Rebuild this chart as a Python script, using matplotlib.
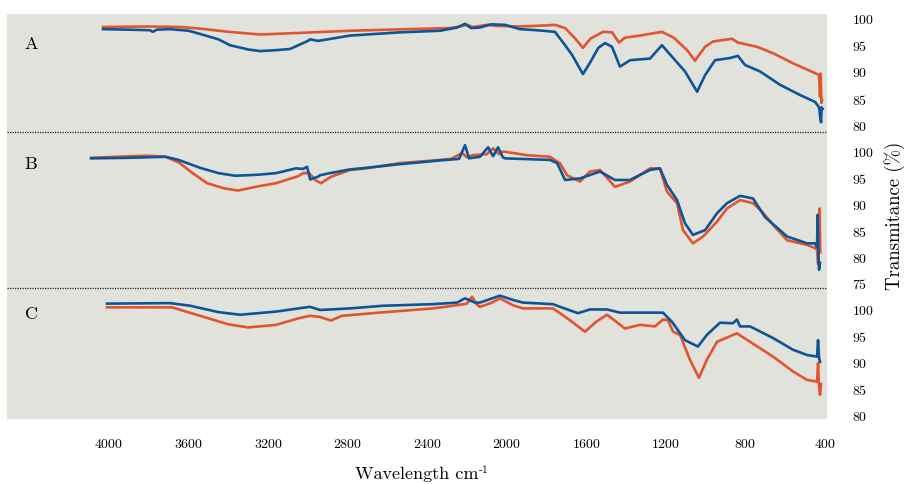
import numpy as np
import matplotlib
matplotlib.use("Agg")
import matplotlib.pyplot as plt
from matplotlib.lines import Line2D

plt.rcParams['font.family'] = 'cmr10'
plt.rcParams['mathtext.fontset'] = 'cm'
plt.rcParams['axes.formatter.use_mathtext'] = True

# panel A
a_orange_wn = [4030, 3800, 3643, 3542, 3400, 3241, 3040, 2788, 2500, 2285, 2235, 2200, 2170, 2100, 2050,
               1934, 1800, 1758, 1707, 1660, 1617, 1580, 1516, 1471, 1436, 1406, 1330, 1220, 1160, 1129,
               1094, 1054, 1003, 963, 868, 838, 742, 661, 560, 475, 440, 430, 425, 422, 418, 415]
a_orange_t = [98.5, 98.6, 98.5, 98.2, 97.6, 97.1, 97.4, 97.8, 98.1, 98.3, 98.6, 98.9, 98.5, 98.9, 98.7,
              98.6, 98.8, 98.9, 98.3, 96.5, 94.6, 96.3, 97.6, 97.5, 95.6, 96.5, 96.9, 97.6, 96.5, 95.4,
              94.2, 92.2, 94.8, 95.8, 96.3, 95.6, 94.8, 93.6, 91.7, 90.3, 89.7, 89.6, 85.5, 89.8, 84.3, 84.8]
a_blue_wn = [4030, 3900, 3794, 3780, 3760, 3693, 3600, 3542, 3450, 3392, 3300, 3241, 3150, 3090, 3000,
             2989, 2950, 2900, 2788, 2537, 2336, 2250, 2210, 2180, 2135, 2080, 2009, 1934, 1850, 1758,
             1707, 1672, 1617, 1582, 1540, 1506, 1471, 1431, 1380, 1280, 1220, 1154, 1104, 1043, 1003,
             953, 878, 838, 802, 727, 626, 526, 450, 430, 425, 420, 417, 412]
a_blue_t = [98.1, 98.0, 97.9, 97.6, 98.0, 98.1, 97.8, 97.2, 96.2, 95.1, 94.3, 94.0, 94.2, 94.4, 95.9,
            96.2, 95.9, 96.2, 96.9, 97.5, 97.8, 98.4, 99.1, 98.3, 98.4, 99.0, 98.9, 98.1, 97.9, 97.6,
            95.1, 93.3, 89.7, 91.8, 94.6, 95.5, 94.8, 91.1, 92.3, 92.6, 95.1, 92.3, 90.2, 86.4, 89.5,
            92.3, 92.7, 93.1, 91.4, 90.2, 87.7, 85.8, 84.5, 83.5, 82.0, 80.7, 83.5, 83.2]

# panel B
b_orange_wn = [4090, 3900, 3804, 3716, 3648, 3580, 3507, 3420, 3351, 3250, 3160, 3050, 3024, 2994, 2960,
               2934, 2884, 2788, 2708, 2537, 2336, 2280, 2225, 2200, 2170, 2100, 2069, 2040, 2019, 1900,
               1783, 1747, 1733, 1697, 1632, 1582, 1531, 1456, 1381, 1280, 1230, 1195, 1144, 1114, 1064,
               1013, 943, 893, 827, 762, 717, 661, 591, 490, 450, 440, 435, 430, 427, 424]
b_orange_t = [98.9, 99.2, 99.3, 99.1, 98.0, 96.0, 94.1, 93.1, 92.7, 93.5, 94.1, 95.4, 96.0, 96.0, 94.6,
              94.1, 95.3, 96.6, 96.9, 97.9, 98.5, 98.7, 99.8, 99.0, 99.4, 99.6, 100.7, 99.6, 100.1, 99.4,
              99.1, 98.2, 97.9, 95.6, 94.4, 96.3, 96.6, 93.4, 94.4, 96.9, 96.9, 92.5, 90.3, 85.2, 82.7,
              84.0, 86.8, 89.3, 90.9, 90.3, 88.7, 86.2, 83.3, 82.4, 81.8, 81.5, 78.8, 82.0, 89.3, 81.0]
b_blue_wn = [4090, 3900, 3716, 3650, 3542, 3450, 3366, 3250, 3160, 3060, 3024, 3004, 2989, 2950, 2939,
             2889, 2788, 2708, 2537, 2336, 2240, 2210, 2190, 2135, 2094, 2069, 2044, 2020, 2009, 1783,
             1747, 1707, 1632, 1531, 1456, 1381, 1280, 1230, 1195, 1144, 1104, 1064, 1003, 943, 893,
             827, 762, 702, 591, 490, 450, 440, 437, 433, 430, 425]
b_blue_t = [98.8, 98.9, 99.1, 98.5, 97.0, 96.0, 95.5, 95.7, 96.0, 96.9, 96.8, 97.2, 94.8, 95.3, 95.6,
            96.0, 96.7, 97.0, 97.7, 98.4, 98.7, 101.3, 98.8, 99.1, 100.9, 99.2, 100.9, 99.0, 98.8, 98.5,
            97.9, 94.7, 95.0, 96.3, 94.7, 94.7, 96.6, 96.9, 93.8, 90.9, 86.5, 84.3, 85.2, 88.4, 90.3,
            91.7, 91.2, 87.7, 84.0, 82.7, 82.7, 82.0, 88.1, 80.5, 77.7, 79.0]

# panel C
c_orange_wn = [4010, 3683, 3648, 3507, 3400, 3301, 3160, 3040, 2990, 2940, 2884, 2830, 2643, 2371, 2250,
               2200, 2175, 2150, 2135, 2080, 2034, 1969, 1919, 1768, 1733, 1680, 1607, 1550, 1496, 1450,
               1406, 1330, 1255, 1215, 1190, 1164, 1129, 1079, 1034, 994, 943, 843, 777, 661, 561,
               490, 440, 435, 430, 425, 420]
c_orange_t = [100.5, 100.5, 100.1, 98.5, 97.3, 96.7, 97.2, 98.5, 98.9, 98.7, 98.0, 98.9, 99.5, 100.3, 100.9,
              101.2, 102.5, 101.0, 100.6, 101.3, 102.2, 100.9, 100.3, 100.3, 99.4, 98.0, 95.9, 97.8, 99.1, 97.8,
              96.5, 97.2, 96.9, 98.2, 98.1, 95.9, 95.3, 90.6, 87.2, 90.6, 94.0, 95.6, 94.0, 91.2, 88.4,
              86.8, 86.5, 90.0, 85.5, 84.0, 86.0]
c_blue_wn = [4010, 3693, 3592, 3450, 3341, 3160, 2990, 2939, 2788, 2622, 2371, 2250, 2210, 2160, 2135,
             2034, 1969, 1919, 1768, 1733, 1642, 1582, 1496, 1431, 1215, 1170, 1104, 1039, 994, 928,
             863, 843, 827, 777, 661, 561, 490, 440, 435, 430, 425]
c_blue_t = [101.2, 101.3, 100.8, 99.6, 99.1, 99.7, 100.6, 100.0, 100.3, 100.8, 101.1, 101.4, 102.2, 101.4, 101.4,
            102.7, 101.9, 101.4, 101.1, 100.6, 99.4, 100.1, 100.1, 99.5, 99.5, 97.8, 94.3, 93.1, 95.3, 97.6,
            97.5, 98.2, 96.9, 96.9, 94.7, 92.5, 91.5, 91.2, 94.3, 91.0, 90.2]

panel_names = ['A', 'B', 'C']
x_ticks = [4000, 3600, 3200, 2800, 2400, 2000, 1600, 1200, 800, 400]
y_ticks = [[100, 95, 90, 85, 80], [100, 95, 90, 85, 80, 75], [100, 95, 90, 85, 80]]

orange = '#e05530'
blue = '#0d5597'
bg = '#e2e2dc'

W, H = 908, 484
fig = plt.figure(figsize=(W / 100, H / 100), dpi=100)

# pixel boxes (top, bottom) and y limits for each panel
boxes = [(14, 132), (132, 288), (288, 419)]
ylims = [(78.88, 100.93), (74.24, 103.79), (79.43, 104.15)]
data = [((a_orange_wn, a_orange_t), (a_blue_wn, a_blue_t)),
        ((b_orange_wn, b_orange_t), (b_blue_wn, b_blue_t)),
        ((c_orange_wn, c_orange_t), (c_blue_wn, c_blue_t))]
label_y = [44.5, 164.5, 314.5]

left, right = 7, 827
for i, (top, bot) in enumerate(boxes):
    ax = fig.add_axes([left / W, 1 - bot / H, (right - left) / W, (bot - top) / H])
    ax.set_facecolor(bg)
    (ow, ot), (bw, bt) = data[i]
    ax.plot(ow, ot, color=orange, lw=1.9, solid_joinstyle='round')
    ax.plot(bw, bt, color=blue, lw=1.9, solid_joinstyle='round')
    ax.set_xlim(4513, 390)
    ax.set_ylim(*ylims[i])
    ax.yaxis.tick_right()
    ax.set_yticks(y_ticks[i])
    ax.tick_params(axis='y', length=0, pad=18, labelsize=10)
    ax.tick_params(axis='x', length=0)
    for s in ax.spines.values():
        s.set_visible(False)
    if i < 2:
        ax.set_xticks([])
    else:
        ax.set_xticks(x_ticks)
        ax.tick_params(axis='x', pad=14, labelsize=10)
    fig.text(31 / W, 1 - label_y[i] / H, panel_names[i], fontsize=13, ha='center', va='center')

# dotted separators between panels, drawn on top of the axes
for yy in [132, 288]:
    fig.add_artist(Line2D([left / W, right / W], [1 - yy / H, 1 - yy / H],
                          color='#222222', lw=0.9, ls=(0, (1, 1)), zorder=10))

# x label with a small raised "-1"
xl = fig.text(417 / W, 1 - 474 / H, 'Wavelength cm', fontsize=13, ha='center', va='center')
fig.canvas.draw()
bb = xl.get_window_extent()
fig.text((bb.x1 + 0.5) / W, (bb.y1 - 4) / H, '-1', fontsize=8.5, ha='left', va='center')
fig.text(895 / W, 1 - 216 / H, 'Transmitance (%)', fontsize=13.5, rotation=90, ha='center', va='center')

fig.savefig('out.png', dpi=100)
